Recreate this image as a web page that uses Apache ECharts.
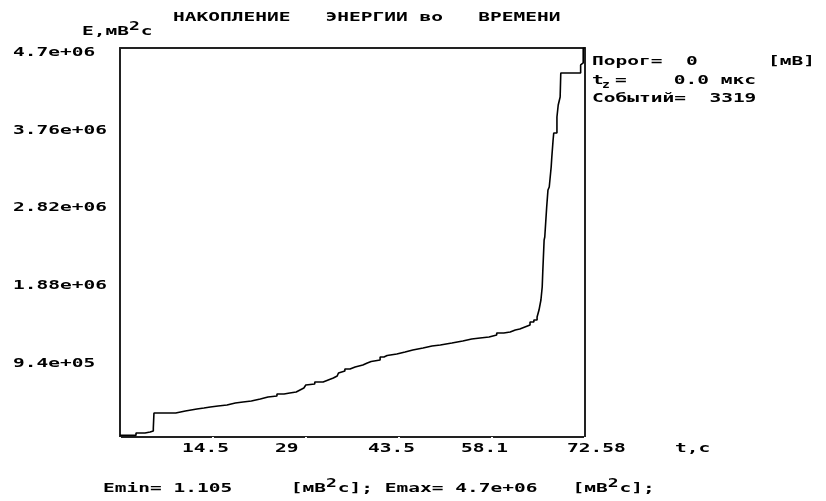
<!DOCTYPE html>
<html>
<head>
<meta charset="utf-8">
<script src="https://cdn.jsdelivr.net/npm/echarts@6/dist/echarts.min.js"></script>
<style>
html,body{margin:0;padding:0;background:#fff;}
#main{width:826px;height:501px;}
</style>
</head>
<body>
<div id="main"></div>
<script>
// ---- data ----
const titleText = 'НАКОПЛЕНИЕ   ЭНЕРГИИ во   ВРЕМЕНИ';
const yAxisNameParts = ['E,мВ', '2', 'с'];
const xAxisName = 't,с';
const xMax = 72.58;
const yMax = 4700000;
const xTickValues = [14.516, 29.032, 43.548, 58.064, 72.58];
const xTickLabels = ['14.5', '29', '43.5', '58.1', '72.58'];
const yTickValues = [940000, 1880000, 2820000, 3760000, 4700000];
const yTickLabels = ['9.4e+05', '1.88e+06', '2.82e+06', '3.76e+06', '4.7e+06'];
const infoLines = ['Порог=  0      [мВ]', '=    0.0 мкс', 'Событий=  3319'];
const footerParts = ['Emin= 1.105     [мВ', '2', 'с]; Emax= 4.7e+06   [мВ', '2', 'с];'];
// cumulative energy (time s, energy mV^2 s)
const energyCurve = [
  [0, 20000], [2.5, 48000], [3.9, 60000], [4.7, 72000], [5.2, 109000], [5.3, 290000],
  [8.7, 314000], [10.2, 326000], [11.1, 338000], [12.0, 350000], [13.1, 362000], [14.1, 375000],
  [15.3, 387000], [16.7, 411000], [18.0, 423000], [19.2, 435000], [20.5, 459000], [21.9, 483000],
  [23.1, 495000], [24.5, 520000], [25.6, 532000], [26.5, 544000], [27.5, 568000], [28.1, 580000],
  [28.4, 592000], [28.7, 616000], [29.0, 628000], [29.2, 640000], [30.4, 665000], [31.7, 689000],
  [32.5, 713000], [33.3, 725000], [33.6, 737000], [33.9, 761000], [34.1, 773000], [34.3, 797000],
  [35.1, 822000], [35.9, 846000], [36.7, 870000], [37.9, 894000], [38.6, 912000],
  [39.2, 930000], [40.6, 967000], [41.2, 985000], [41.7, 1003000], [43.2, 1027000], [44.5, 1051000], [45.7, 1075000],
  [47.3, 1099000], [48.7, 1112000], [50.0, 1136000], [51.8, 1160000], [53.5, 1184000], [54.9, 1196000],
  [56.2, 1208000], [57.6, 1232000], [58.8, 1257000], [59.9, 1269000], [60.9, 1293000], [61.7, 1305000],
  [62.4, 1329000], [63.2, 1353000], [64.0, 1389000], [64.6, 1414000], [65.1, 1450000], [65.4, 1534000],
  [65.7, 1655000], [65.9, 1812000], [66.0, 2018000], [66.2, 2380000], [66.3, 2416000], [66.6, 2779000],
  [66.8, 2984000], [67.0, 3021000], [67.3, 3262000], [67.4, 3383000], [67.6, 3588000], [67.7, 3673000],
  [68.2, 3866000], [68.4, 4011000], [68.7, 4108000], [68.8, 4398000], [71.9, 4495000], [72.1, 4519000],
  [72.3, 4700000], [72.58, 4700000]
];

// ---- chart ----
const FAMILY = '"DejaVu Sans Mono"';
const FONT = 'bold 13px ' + FAMILY;
const SX = 1.5;
const chart = echarts.init(document.getElementById('main'), null, {renderer: 'canvas'});
const frameColor = '#222';
chart.setOption({
  animation: false,
  backgroundColor: '#fff',
  grid: {left: 120, right: 241, top: 48, bottom: 64, show: false},
  xAxis: [{
    type: 'value', min: 0, max: xMax, interval: xMax / 5,
    axisLine: {show: true, onZero: false, lineStyle: {color: frameColor, width: 2}},
    axisTick: {show: true, inside: false, length: 2, lineStyle: {color: '#fff', width: 2}},
    axisLabel: {show: false}, splitLine: {show: false}
  }, {
    type: 'value', position: 'top', min: 0, max: xMax,
    axisLine: {show: true, onZero: false, lineStyle: {color: frameColor, width: 2}},
    axisTick: {show: false}, axisLabel: {show: false}, splitLine: {show: false}
  }],
  yAxis: [{
    type: 'value', min: 0, max: yMax, interval: yMax / 5,
    axisLine: {show: true, onZero: false, lineStyle: {color: frameColor, width: 2}},
    axisTick: {show: false}, axisLabel: {show: false}, splitLine: {show: false}
  }, {
    type: 'value', position: 'right', min: 0, max: yMax,
    axisLine: {show: true, onZero: false, lineStyle: {color: frameColor, width: 2}},
    axisTick: {show: false}, axisLabel: {show: false}, splitLine: {show: false}
  }],
  series: [{
    type: 'line', step: 'end', data: energyCurve, showSymbol: false, symbol: 'none',
    lineStyle: {color: '#000', width: 1.6}, clip: true
  }]
});

function txt(str, x, y, extra) {
  return Object.assign({
    type: 'text', x: x, y: y, scaleX: SX, silent: true, z: 100,
    style: {text: str, font: FONT, fill: '#000', align: 'left', verticalAlign: 'middle'}
  }, extra || {});
}
// text with raised "2" superscripts (parts alternate normal / superscript)
function supTxt(parts, x, y) {
  const s = parts.map((p, i) => (i % 2 === 0 ? '{n|' : '{s|') + p + '}').join('');
  return {
    type: 'text', x: x, y: y - 0.5, scaleX: SX, silent: true, z: 100,
    style: {
      text: s, fill: '#000', align: 'left', verticalAlign: 'middle',
      rich: {
        n: {fontFamily: 'DejaVu Sans Mono', fontWeight: 'bold', fontSize: 13, lineHeight: 22, verticalAlign: 'middle', fill: '#000'},
        s: {fontFamily: 'DejaVu Sans Mono', fontWeight: 'bold', fontSize: 12, lineHeight: 12, verticalAlign: 'top', fill: '#000', width: 7.83}
      }
    }
  };
}

const g = [];
g.push(txt(titleText, 173, 18));
g.push(supTxt(yAxisNameParts, 82, 32));
// y tick labels
yTickValues.forEach((v, i) => {
  const py = chart.convertToPixel({yAxisIndex: 0}, v);
  g.push(txt(yTickLabels[i], 13, py + 4.5));
});
// x tick labels
const baseY = chart.convertToPixel({yAxisIndex: 0}, 0);
xTickValues.forEach((v, i) => {
  const px = chart.convertToPixel({xAxisIndex: 0}, v);
  const off = (i === xTickValues.length - 1) ? -18 : -31;
  g.push(txt(xTickLabels[i], px + off, baseY + 12));
});
g.push(txt(xAxisName, 675, baseY + 12));
// info block
g.push(txt(infoLines[0], 592, 62));
g.push(txt('t', 592, 81));
g.push({type: 'text', x: 602, y: 85, scaleX: 1.3, silent: true, z: 100,
  style: {text: 'z', font: 'bold 10px ' + FAMILY, fill: '#000', align: 'left', verticalAlign: 'middle'}});
g.push(txt(infoLines[1], 615, 81));
g.push(txt(infoLines[2], 592, 99));
// footer
g.push(supTxt(footerParts, 103, 489));
chart.setOption({graphic: g});
</script>
</body>
</html>
